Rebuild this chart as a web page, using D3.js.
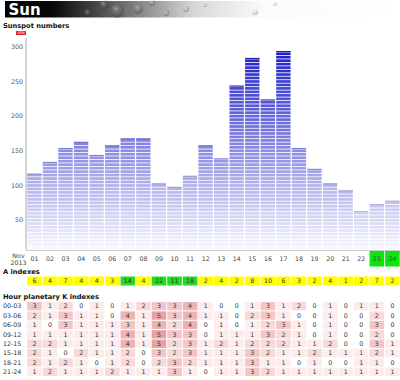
<!DOCTYPE html>
<html><head><meta charset="utf-8">
<script src="https://cdn.jsdelivr.net/npm/d3@7"></script>
<style>body{margin:0;background:#fff}svg{display:block}</style>
</head><body><svg id="c" width="400" height="380"></svg>
<script>
const days = ["01","02","03","04","05","06","07","08","09","10","11","12","13","14","15","16","17","18","19","20","21","22","23","24"];
const sunspot = [110,127,147,156,137,151,161,161,96,91,107,151,132,237,277,217,287,147,117,96,86,56,66,71];
const aIndex = [6,4,7,4,4,3,14,4,22,11,18,2,4,2,8,10,6,3,2,4,1,2,7,2];
const kPeriods = ["00-03","03-06","06-09","09-12","12-15","15-18","18-21","21-24"];
const kValues = [
  [3,1,2,0,1,0,1,2,3,3,4,1,0,0,1,3,1,2,0,1,0,1,1,0],
  [2,1,3,1,1,0,4,1,5,3,4,1,1,0,2,3,1,0,0,1,0,0,2,0],
  [1,0,3,1,1,1,3,1,4,2,4,0,1,0,1,2,3,1,0,1,0,0,3,0],
  [1,1,1,1,1,1,4,1,5,3,3,0,1,1,1,3,2,1,0,1,0,0,2,0],
  [2,2,1,1,1,1,4,1,5,2,3,1,2,1,2,2,2,1,1,2,0,0,3,1],
  [2,1,0,2,1,1,2,0,3,2,3,1,1,1,3,2,1,1,2,1,1,1,2,1],
  [2,1,2,1,0,1,2,0,2,3,2,1,1,1,3,1,1,0,1,0,0,1,1,0],
  [1,2,1,1,1,2,1,1,1,3,1,0,1,1,3,2,1,1,1,1,1,1,1,1]
];
const highlightDays = ["23","24"];
const yTicks = [50,100,150,200,250,300];
const monthLabel = ["Nov","2013"];
const titleText = "Sun";
const sectionTitles = ["Sunspot numbers","A indexes","Hour planetary K indexes"];

const svg = d3.select("#c");
const FONT = "DejaVu Sans, Verdana, sans-serif";

// header banner
const defs = svg.append("defs");
const lg = defs.append("linearGradient").attr("id","hdr").attr("x1","0").attr("x2","1");
[["0%","#000"],["12%","#080808"],["30%","#6e6e6e"],["48%","#d8d8d8"],["65%","#fafafa"],["100%","#ffffff"]]
  .forEach(([o,c])=>lg.append("stop").attr("offset",o).attr("stop-color",c));
const rg = defs.append("radialGradient").attr("id","bub").attr("cx","0.4").attr("cy","0.35");
rg.append("stop").attr("offset","0%").attr("stop-color","#fff").attr("stop-opacity",0.35);
rg.append("stop").attr("offset","70%").attr("stop-color","#888").attr("stop-opacity",0.1);
rg.append("stop").attr("offset","100%").attr("stop-color","#333").attr("stop-opacity",0.3);
svg.append("rect").attr("x",5).attr("y",1).attr("width",395).attr("height",16.5).attr("fill","url(#hdr)");
const bubbles = [[88,13,4],[104,5,5],[117,11,7],[138,9,5],[152,3,3],[166,13,3],[186,9,3],[205,5,2],[255,12,3],[275,4,2]];
svg.append("g").selectAll("circle").data(bubbles).join("circle")
  .attr("cx",d=>d[0]).attr("cy",d=>d[1]).attr("r",d=>d[2]).attr("fill","url(#bub)");
svg.append("text").attr("x",8.5).attr("y",15).attr("fill","#fff").attr("font-family",FONT)
  .attr("font-weight","bold").attr("font-size",15).text(titleText);

// section titles
svg.append("text").attr("x",3).attr("y",27.5).attr("font-family",FONT).attr("font-weight","bold")
  .attr("font-size",6.7).attr("fill","#111").text(sectionTitles[0]);
svg.append("rect").attr("x",16).attr("y",31).attr("width",10).attr("height",4).attr("fill","#e0202a");
svg.append("text").attr("x",21).attr("y",34.4).attr("text-anchor","middle").attr("font-family",FONT)
  .attr("font-size",3.5).attr("fill","#fff").text("SSN");

// scales
const x = d3.scaleBand().domain(days).range([26.7,400.2]).paddingInner(0);
const y = d3.scaleLinear().domain([0,300]).range([250,42]);
const bw = x.bandwidth();
const col = d3.scaleLinear().domain([0,300]).range(["#f8f8fe","#1212c6"]).interpolate(d3.interpolateRgb);

// y axis
svg.append("line").attr("x1",26).attr("x2",26).attr("y1",38).attr("y2",250).attr("stroke","#aaa").attr("stroke-width",1);
svg.append("g").selectAll("text").data(yTicks).join("text")
  .attr("x",23).attr("y",d=>y(d)+4.7).attr("dy","0.35em").attr("text-anchor","end")
  .attr("font-family",FONT).attr("font-size",6.3).attr("fill","#555").text(d=>d);

// bars in 5-unit stripes
const STEP = 5;
const barG = svg.append("g");
days.forEach((d,i)=>{
  const v = sunspot[i];
  const n = Math.ceil(v/STEP);
  const stripes = d3.range(n).map(k=>({lo:k*STEP, hi:Math.min(v,(k+1)*STEP)}));
  barG.append("g").selectAll("rect").data(stripes).join("rect")
    .attr("x",x(d)+0.5).attr("width",bw-1.2)
    .attr("y",s=>y(s.hi)).attr("height",s=>Math.max(0.5,y(s.lo)-y(s.hi)-0.8))
    .attr("fill",s=>col((s.lo+s.hi)/2));
  barG.append("line").attr("x1",x(d)+0.5).attr("x2",x(d)+bw-0.7).attr("y1",y(v)+0.5).attr("y2",y(v)+0.5)
    .attr("stroke",d3.color(col(v)).darker(0.4)).attr("stroke-width",1);
});
svg.append("line").attr("x1",26).attr("x2",400).attr("y1",250.5).attr("y2",250.5).attr("stroke","#ccc");

// x labels
svg.append("g").selectAll("rect").data(highlightDays).join("rect")
  .attr("x",d=>x(d)+0.5).attr("width",bw-1).attr("y",251).attr("height",15.5).attr("fill","#0ce40c");
svg.append("g").selectAll("text").data(days).join("text")
  .attr("x",d=>x(d)+bw/2).attr("y",258.3).attr("dy","0.35em").attr("text-anchor","middle")
  .attr("font-family",FONT).attr("font-size",6.3).attr("fill","#444").text(d=>d);
svg.append("g").selectAll("text").data(monthLabel).join("text")
  .attr("x",18.5).attr("y",(d,i)=>255.5+i*7.2).attr("dy","0.35em").attr("text-anchor","middle")
  .attr("font-family",FONT).attr("font-size",6.3).attr("fill","#444").text(d=>d);

// A indexes
svg.append("text").attr("x",3).attr("y",274.3).attr("font-family",FONT).attr("font-weight","bold")
  .attr("font-size",6.7).attr("fill","#111").text(sectionTitles[1]);
const aG = svg.append("g");
aG.selectAll("rect").data(days).join("rect")
  .attr("x",d=>x(d)+0.5).attr("width",bw-1).attr("y",276.5).attr("height",9)
  .attr("fill",(d,i)=>aIndex[i]>10?"#22dc22":"#ffff00");
aG.selectAll("text").data(days).join("text")
  .attr("x",d=>x(d)+bw/2).attr("y",281).attr("dy","0.35em").attr("text-anchor","middle")
  .attr("font-family",FONT).attr("font-size",6.3).attr("fill","#333").text((d,i)=>aIndex[i]);

// K indexes
svg.append("text").attr("x",3).attr("y",299).attr("font-family",FONT).attr("font-weight","bold")
  .attr("font-size",6.7).attr("fill","#111").text(sectionTitles[2]);
const ky = d3.scaleBand().domain(kPeriods).range([301.5,376.5]);
const kcol = d3.scaleLinear().domain([0,0.99,1,5]).range(["#ffffff","#ffffff","#fcecec","#e8a0a0"]);
kPeriods.forEach((p,r)=>{
  const g = svg.append("g");
  g.append("text").attr("x",3).attr("y",ky(p)+ky.bandwidth()/2).attr("dy","0.35em")
    .attr("font-family",FONT).attr("font-size",6.3).attr("fill","#333").text(p);
  g.selectAll("rect").data(days).join("rect")
    .attr("x",d=>x(d)+0.5).attr("width",bw-1).attr("y",ky(p)+0.5).attr("height",ky.bandwidth()-1)
    .attr("fill",(d,i)=>kcol(kValues[r][i]));
  g.selectAll("text.v").data(days).join("text").attr("class","v")
    .attr("x",d=>x(d)+bw/2).attr("y",ky(p)+ky.bandwidth()/2).attr("dy","0.35em").attr("text-anchor","middle")
    .attr("font-family",FONT).attr("font-size",6.3).attr("fill","#333").text((d,i)=>kValues[r][i]);
});
</script></body></html>
